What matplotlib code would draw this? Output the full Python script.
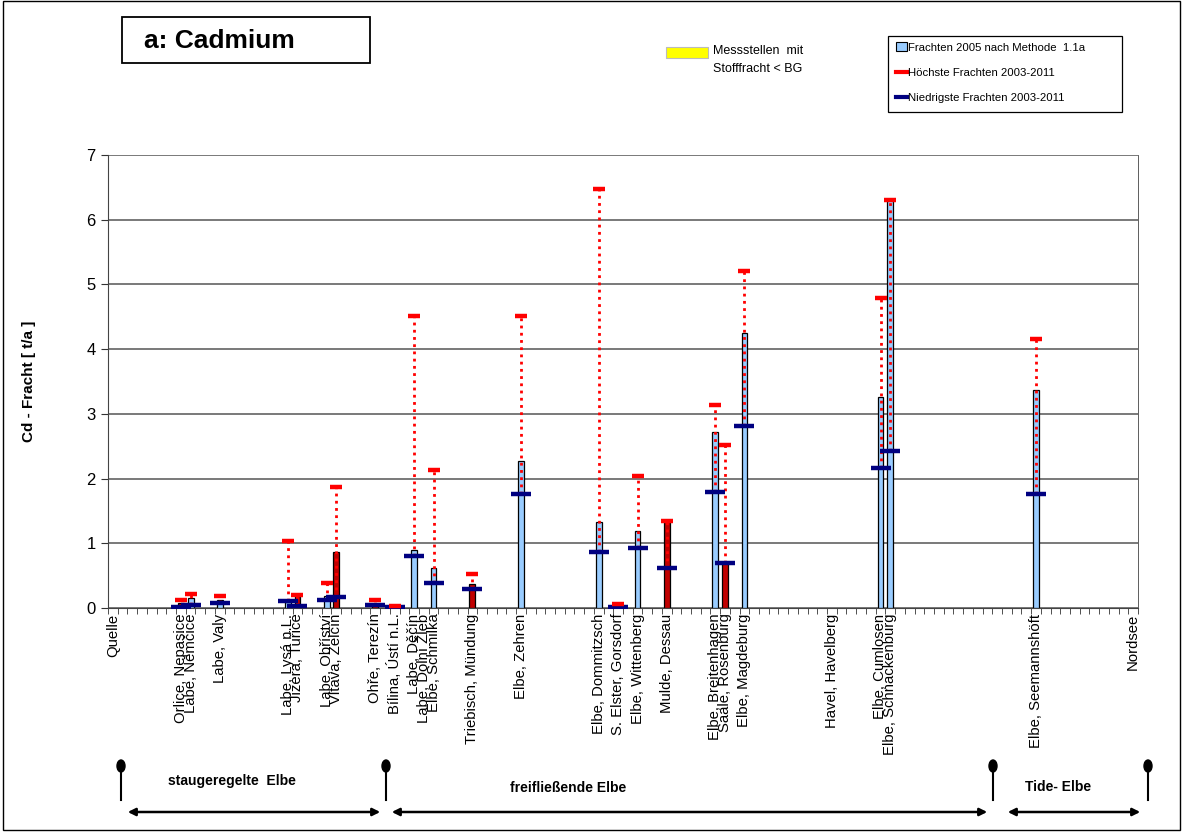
import numpy as np
import matplotlib.pyplot as plt
from matplotlib.patches import Rectangle, Ellipse, Patch, FancyArrowPatch
from matplotlib.lines import Line2D

plt.rcParams['font.family']=['Liberation Sans','DejaVu Sans']

nan=np.nan
stations=["Quelle","Orlice, Nepasice","Labe, Němčice","Labe, Valy","Labe, Lysá n.L.","Jizera, Tuřice",
          "Labe, Obříství","Vltava, Zelčín","Ohře, Terezín","Bílina, Ústí n.L.","Labe, Děčín","Labe, Dolní Žleb",
          "Elbe, Schmilka","Triebisch, Mündung","Elbe, Zehren","Elbe, Dommitzsch","S. Elster, Gorsdorf",
          "Elbe, Wittenberg","Mulde, Dessau","Elbe, Breitenhagen","Saale, Rosenburg","Elbe, Magdeburg",
          "Havel, Havelberg","Elbe, Cumlosen","Elbe, Schnackenburg","Elbe, Seemannshöft","Nordsee"]
# category slot of each station along the river (106 slots)
slot=[0,7,8,11,18,19,22,23,27,29,31,32,33,37,42,50,52,54,57,62,63,65,74,79,80,95,105]
tributary=[0,1,0,0,0,1,0,1,1,1,0,0,0,1,0,0,1,0,1,0,1,0,1,0,0,0,0]
load2005=[nan,0.07,0.15,0.12,0.09,0.18,0.18,0.86,0.05,0.02,0.89,nan,0.62,0.37,2.27,1.33,0.03,1.19,1.34,2.72,0.70,4.25,nan,3.26,6.30,3.37,nan]
high=[nan,0.13,0.22,0.18,1.03,0.20,0.38,1.87,0.13,0.03,4.51,nan,2.13,0.53,4.51,6.47,0.06,2.04,1.34,3.13,2.52,5.21,nan,4.79,6.30,4.16,nan]
low=[nan,0.02,0.05,0.07,0.11,0.03,0.13,0.17,0.05,0.02,0.80,nan,0.38,0.30,1.76,0.87,0.01,0.93,0.62,1.79,0.70,2.82,nan,2.17,2.43,1.76,nan]
nslot=106

W,H=1187,832
fig=plt.figure(figsize=[W/100,H/100],dpi=100)
def fx(p): return p/W
def fy(p): return 1-p/H

ax=fig.add_axes([fx(108),fy(608),fx(1138)-fx(108),fy(155)-fy(608)])

x=np.array(slot)
v=np.array(load2005)
hi=np.array(high)
lo=np.array(low)
trib=np.array(tributary)==1
ok=~np.isnan(v)

cols=np.where(trib,"#C00000","#99CCFF")
ax.bar(x[ok],v[ok],width=0.6,color=cols[ok],edgecolor="black",linewidth=0.9,zorder=2)
for k in range(len(x)):
    if np.isnan(hi[k]): continue
    ax.plot([x[k],x[k]],[lo[k],hi[k]],color="#FF0000",lw=2,ls=(0,(1,1.6)),zorder=3)
ax.plot(x[ok],lo[ok],ls="none",marker="_",color="#000080",markersize=14,mew=3.2,zorder=4)
ax.plot(x[ok],hi[ok],ls="none",marker="_",color="#FF0000",markersize=8,mew=3.2,zorder=5)

ax.set_xlim(-0.5,nslot-0.5)
ax.set_ylim(0,7)
ax.set_yticks(range(8))
ax.tick_params(axis="y",labelsize=12,length=5,color="#333333",pad=4)
ax.set_xticks(x)
ax.set_xticklabels(stations,rotation=90,fontsize=10.7)
ax.tick_params(axis="x",length=0,pad=4)
ax.set_xticks(np.arange(nslot+1)-0.5,minor=True)
ax.tick_params(axis="x",which="minor",length=4,color="#333333")
ax.yaxis.grid(True,color="#555555",lw=1.1)
ax.set_axisbelow(True)
ax.spines["top"].set_visible(False)
for s in ["left","bottom","right"]:
    ax.spines[s].set_color("#444444")
ax.spines["right"].set_linewidth(0.6)
ax.set_ylabel("Cd - Fracht [ t/a ]",fontsize=11,fontweight="bold",labelpad=36)

# title box
fig.patches.append(Rectangle((fx(122),fy(63)),fx(370)-fx(122),fy(17)-fy(63),transform=fig.transFigure,
                             fill=False,edgecolor="black",lw=1.3))
fig.text(fx(144),fy(41),"a: Cadmium",fontsize=19,fontweight="bold",va="center")

# BG legend
fig.patches.append(Rectangle((fx(666),fy(58)),fx(42),fy(47)-fy(58),transform=fig.transFigure,
                             facecolor="#FFFF00",edgecolor="#BBBBBB",lw=0.8))
fig.text(fx(713),fy(51),"Messstellen  mit",fontsize=9,va="center")
fig.text(fx(713),fy(69),"Stofffracht < BG",fontsize=9,va="center")

# legend box
fig.patches.append(Rectangle((fx(888),fy(112)),fx(1122)-fx(888),fy(36)-fy(112),transform=fig.transFigure,
                             fill=False,edgecolor="black",lw=0.9))
handles=[Patch(facecolor="#99CCFF",edgecolor="black",lw=0.8),
         Line2D([],[],color="#FF0000",lw=3),
         Line2D([],[],color="#000080",lw=3)]
labels=["Frachten 2005 nach Methode  1.1a","Höchste Frachten 2003-2011","Niedrigste Frachten 2003-2011"]
leg=fig.legend(handles,labels,loc="upper left",bbox_to_anchor=(fx(893),fy(39)),fontsize=8.2,
               frameon=False,handlelength=0.9,handleheight=0.8,
               handletextpad=0.15,labelspacing=1.3,borderpad=0.3,borderaxespad=0)

# river sections
for px in [121,386,993,1148]:
    fig.lines.append(Line2D([fx(px),fx(px)],[fy(768),fy(800)],transform=fig.transFigure,color="black",lw=1.5))
    fig.patches.append(Ellipse((fx(px),fy(766)),fx(8),fy(0)-fy(12),transform=fig.transFigure,color="black"))
for a,b in [(125,383),(389,990),(1005,1143)]:
    fig.patches.append(FancyArrowPatch((fx(a),fy(812)),(fx(b),fy(812)),transform=fig.transFigure,
                                       arrowstyle="<|-|>",mutation_scale=11,color="black",lw=1.8))
fig.text(fx(232),fy(781),"staugeregelte  Elbe",fontsize=10,fontweight="bold",ha="center",va="center")
fig.text(fx(568),fy(788),"freifließende Elbe",fontsize=10,fontweight="bold",ha="center",va="center")
fig.text(fx(1058),fy(787),"Tide- Elbe",fontsize=10,fontweight="bold",ha="center",va="center")

# outer frame
fig.patches.append(Rectangle((fx(3),fy(830)),fx(1180)-fx(3),fy(1)-fy(830),transform=fig.transFigure,
                             fill=False,edgecolor="black",lw=1.0))

fig.savefig("out.png",dpi=100)
